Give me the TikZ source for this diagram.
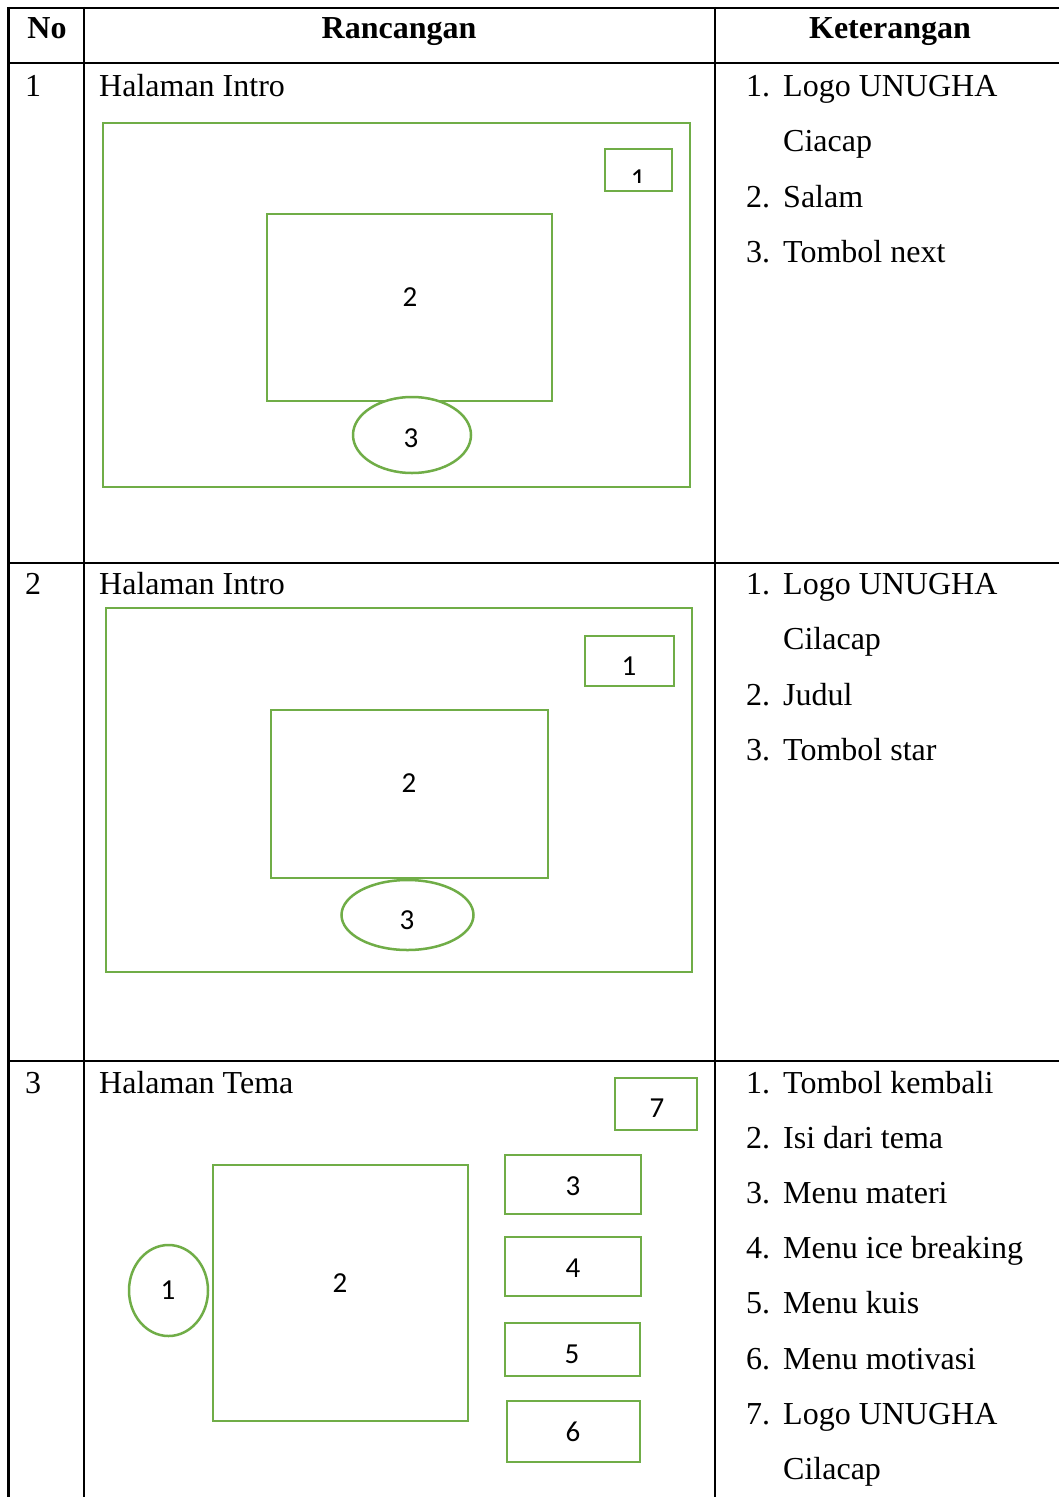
\documentclass[tikz,border=0pt]{standalone}
\usepackage{fontspec}
\setmainfont{Liberation Serif}
\newfontfamily\calib{Carlito}
\definecolor{grn}{RGB}{112,173,71}
\begin{document}
\begin{tikzpicture}[x=1pt,y=-1pt,
  grid/.style={line width=2.4pt,black},
  gbox/.style={draw=grn,line width=2.5pt},
  num/.style={font=\calib\fontsize{29}{29}\selectfont,inner sep=0pt},
  txt/.style={font=\fontsize{32}{32}\selectfont,anchor=base west,inner sep=0pt},
  hdr/.style={font=\bfseries\fontsize{32}{32}\selectfont,anchor=base,inner sep=0pt}]
\useasboundingbox (0,0) rectangle (1059,1497);
\fill[white] (0,0) rectangle (1059,1497);
% table grid
\draw[grid] (7.5,8) -- (1059,8);
\draw[grid] (7.5,63) -- (1059,63);
\draw[grid] (7.5,563) -- (1059,563);
\draw[grid] (7.5,1061) -- (1059,1061);
\draw[grid] (8.5,6.8) -- (8.5,1497);
\draw[grid] (84,6.8) -- (84,1497);
\draw[grid] (715,6.8) -- (715,1497);
% header
\node[hdr] (hno) at (47,38) {No};
\node[hdr] (hran) at (399,38) {Rancangan};
\node[hdr] (hket) at (890,38) {Keterangan};
% row numbers and titles
\node[txt] (n1) at (25,96) {1};
\node[txt] (n2) at (25,594) {2};
\node[txt] (n3) at (25,1093) {3};
\node[txt] (t1) at (99,96) {Halaman Intro};
\node[txt] (t2) at (99,594) {Halaman Intro};
\node[txt] (t3) at (99,1093) {Halaman Tema};
% row 1 keterangan
\node[txt] (k11) at (746,96) {1.};
\node[txt] (k11t) at (783,96) {Logo UNUGHA};
\node[txt] (k11u) at (783,151) {Ciacap};
\node[txt] (k12) at (746,207) {2.};
\node[txt] (k12t) at (783,207) {Salam};
\node[txt] (k13) at (746,262) {3.};
\node[txt] (k13t) at (783,262) {Tombol next};
% row 2 keterangan
\node[txt] (k21) at (746,594) {1.};
\node[txt] (k21t) at (783,594) {Logo UNUGHA};
\node[txt] (k21u) at (783,649) {Cilacap};
\node[txt] (k22) at (746,705) {2.};
\node[txt] (k22t) at (783,705) {Judul};
\node[txt] (k23) at (746,760) {3.};
\node[txt] (k23t) at (783,760) {Tombol star};
% row 3 keterangan
\node[txt] (k31) at (746,1093) {1.};
\node[txt] (k31t) at (783,1093) {Tombol kembali};
\node[txt] (k32) at (746,1148) {2.};
\node[txt] (k32t) at (783,1148) {Isi dari tema};
\node[txt] (k33) at (746,1203) {3.};
\node[txt] (k33t) at (783,1203) {Menu materi};
\node[txt] (k34) at (746,1258) {4.};
\node[txt] (k34t) at (783,1258) {Menu ice breaking};
\node[txt] (k35) at (746,1313) {5.};
\node[txt] (k35t) at (783,1313) {Menu kuis};
\node[txt] (k36) at (746,1369) {6.};
\node[txt] (k36t) at (783,1369) {Menu motivasi};
\node[txt] (k37) at (746,1424) {7.};
\node[txt] (k37t) at (783,1424) {Logo UNUGHA};
\node[txt] (k37u) at (783,1479) {Cilacap};
% row 1 sketch
\draw[gbox] (103,123) rectangle (690,487);
\begin{scope}
\clip (605,149) rectangle (672,182);
\node[num,anchor=base] (r1l1) at (638,188) {1};
\end{scope}
\draw[gbox] (605,149) rectangle (672,191);
\draw[gbox] (267,214) rectangle (552,401);
\node[num] (r1l2) at (410,297) {2};
\draw[gbox,fill=white] (412,435) ellipse [x radius=59,y radius=38];
\node[num] (r1l3) at (411,438) {3};
% row 2 sketch
\draw[gbox] (106,608) rectangle (692,972);
\draw[gbox] (585,636) rectangle (674,686);
\node[num] (r2l1) at (629,666) {1};
\draw[gbox] (271,710) rectangle (548,878);
\node[num] (r2l2) at (409,783) {2};
\draw[gbox,fill=white] (407.5,915) ellipse [x radius=66,y radius=35];
\node[num] (r2l3) at (407,920) {3};
% row 3 sketch
\draw[gbox] (615,1078) rectangle (697,1130);
\node[num] (r3l7) at (657,1108) {7};
\draw[gbox] (505,1155) rectangle (641,1214);
\node[num] (r3l3) at (573,1186) {3};
\draw[gbox] (505,1237) rectangle (641,1296);
\node[num] (r3l4) at (573,1268) {4};
\draw[gbox] (505,1323) rectangle (640,1376);
\node[num] (r3l5) at (572,1354) {5};
\draw[gbox] (507,1401) rectangle (640,1462);
\node[num] (r3l6) at (573,1432) {6};
\draw[gbox] (213,1165) rectangle (468,1421);
\node[num] (r3l2) at (340,1283) {2};
\draw[gbox] (168.5,1290.5) ellipse [x radius=39.5,y radius=45.5];
\node[num] (r3l1) at (168,1290) {1};
\end{tikzpicture}
\end{document}
